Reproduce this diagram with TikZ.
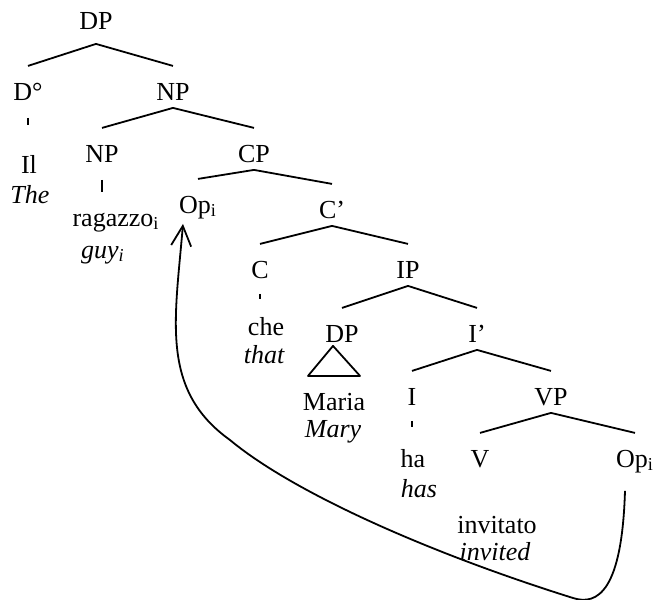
\documentclass[tikz,border=0pt]{standalone}
\usepackage{fontspec}
\setmainfont{Liberation Serif}
\usetikzlibrary{arrows.meta}
\begin{document}
\begin{tikzpicture}[x=0.5pt,y=-0.5pt,line width=0.9pt,line join=round,
    font=\fontsize{13}{15}\selectfont,
    lbl/.style={anchor=base,inner sep=1pt,text height=8.6pt,text depth=2.5pt},
    gloss/.style={lbl,font=\fontsize{13}{15}\selectfont\itshape},
    tick/.style={shorten <=5pt,shorten >=10pt}]
  \useasboundingbox (0,0) rectangle (654,600);
  % categories
  \node[lbl,text depth=6pt] (dp1) at (96,29) {DP};
  \node[lbl] (d0) at (28,100) {D°};
  \node[lbl] (np1) at (173,100) {NP};
  \node[lbl] (np2) at (102,162) {NP};
  \node[lbl] (cp) at (254,162) {CP};
  \node[lbl] (op1) at (198,213) {Op\textsubscript{i}};
  \node[lbl] (cbar) at (332,218) {C’};
  \node[lbl] (c) at (260,278) {C};
  \node[lbl] (ip) at (408,278) {IP};
  \node[lbl] (dp2) at (342,342) {DP};
  \node[lbl] (ibar) at (477,342) {I’};
  \node[lbl] (i) at (412,405) {I};
  \node[lbl] (vp) at (551,405) {VP};
  \node[lbl] (v) at (480,467) {V};
  \node[lbl] (op2) at (635,467) {Op\textsubscript{i}};
  % words and glosses
  \node[lbl] (il) at (29,173) {Il};
  \node[gloss] (the) at (30,203) {The};
  \node[lbl] (rag) at (116,226) {ragazzo\textsubscript{i}};
  \node[gloss] (guy) at (103,258) {guy\textsubscript{i}};
  \node[lbl] (che) at (266,335) {che};
  \node[gloss] (that) at (264,363) {that};
  \node[lbl] (maria) at (334,410) {Maria};
  \node[gloss] (mary) at (333,437) {Mary};
  \node[lbl] (ha) at (413,467) {ha};
  \node[gloss] (has) at (419,497) {has};
  \node[lbl] (inv) at (497,533) {invitato};
  \node[gloss] (invd) at (495,560) {invited};
  % branches
  \foreach \p/\c in {dp1/d0,dp1/np1,np1/np2,np1/cp,cp/op1,cp/cbar,cbar/c,cbar/ip,
      ip/dp2,ip/ibar,ibar/i,ibar/vp,vp/v,vp/op2}
    \draw (\p.south) -- ([yshift=7pt]\c.north);
  \draw[tick,shorten >=14pt] (d0.south) -- (d0.south |- il.north);
  \draw[tick,shorten >=7pt] (np2.south) -- (np2.south |- rag.north);
  \draw[tick,shorten <=4pt,shorten >=8pt] (c.south) -- (c.south |- che.north);
  \draw[tick,shorten <=4pt] (i.south) -- (i.south |- ha.north);
  \draw ([xshift=-4.5pt,yshift=2pt]dp2.south) -- ++(-25,30) -- ++(52,0) -- cycle;
  % movement
  \draw[-{Straight Barb[length=10pt,width=10pt]}] ([xshift=-5pt,yshift=-8pt]op2.south)
    .. controls (622,590) and (598,606) .. (573,598)
    .. controls (420,550) and (290,490) .. (230,440)
    .. controls (160,390) and (175,320) .. ([xshift=-7.5pt,yshift=-1.5pt]op1.south);
\end{tikzpicture}
\end{document}
